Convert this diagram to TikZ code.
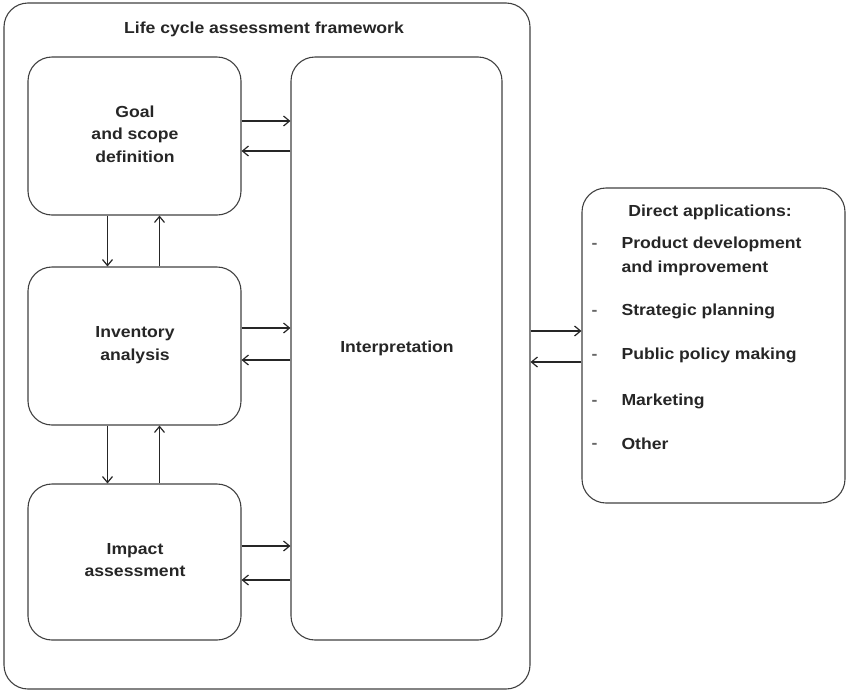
\documentclass[tikz,border=0pt]{standalone}
\usepackage{fontspec}
\setmainfont{Liberation Sans}[FakeStretch=1.1]
\usetikzlibrary{arrows.meta}
\begin{document}
\begin{tikzpicture}[x=1pt,y=-1pt,
  box/.style={draw=black!75,line width=1.1pt,rounded corners=24pt,inner sep=0pt},
  lbl/.style={font=\fontsize{16}{22.5}\selectfont\bfseries,text=black!85,align=center},
  item/.style={font=\fontsize{16}{24}\selectfont\bfseries,text=black!85,align=left,anchor=west},
  arr/.style={draw=black!85,line width=1.2pt,-{Straight Barb[length=6pt,width=10pt,line width=1.2pt]}}]
\useasboundingbox (0,0) rectangle (848,691);
\node[box,minimum width=526pt,minimum height=686pt] (outer) at (267,346) {};
\node[lbl] (title) at (264,29) {Life cycle assessment framework};
\node[box,minimum width=213pt,minimum height=158pt] (goal) at (134.5,136) {};
\node[box,minimum width=213pt,minimum height=158pt] (inv) at (134.5,346) {};
\node[box,minimum width=213pt,minimum height=156pt] (imp) at (134.5,562) {};
\node[box,minimum width=211pt,minimum height=583pt] (interp) at (396.5,348.5) {};
\node[box,minimum width=263pt,minimum height=315pt] (direct) at (713.5,345.5) {};
\node[lbl] at (135,134) {Goal\\and scope\\definition};
\node[lbl] at (135,345) {Inventory\\analysis};
\node[lbl] at (135,560) {Impact\\assessment};
\node[lbl] at (397,348) {Interpretation};
\node[lbl] (dtitle) at (710,212) {Direct applications:};
\foreach \y/\t in {256/{Product development\\and improvement},311/{Strategic planning},355/{Public policy making},401/{Marketing},444/{Other}}{
  \node[item] at (618,\y) {\t};
}
\foreach \y in {246,313,357,403,446}{
  \node[item,text=black!60] at (588,\y) {-};
}
% horizontal arrows
\draw[arr] ([yshift=15pt]goal.east) -- ([yshift=15pt]goal.east -| interp.west);
\draw[arr] ([yshift=-15pt]goal.east -| interp.west) -- ([yshift=-15pt]goal.east);
\draw[arr] ([yshift=18pt]inv.east) -- ([yshift=18pt]inv.east -| interp.west);
\draw[arr] ([yshift=-14pt]inv.east -| interp.west) -- ([yshift=-14pt]inv.east);
\draw[arr] ([yshift=16pt]imp.east) -- ([yshift=16pt]imp.east -| interp.west);
\draw[arr] ([yshift=-18pt]imp.east -| interp.west) -- ([yshift=-18pt]imp.east);
% vertical arrows
\draw[arr] ([xshift=-27pt]goal.south) -- ([xshift=-27pt]inv.north);
\draw[arr] ([xshift=25pt]inv.north) -- ([xshift=25pt]goal.south);
\draw[arr] ([xshift=-27pt]inv.south) -- ([xshift=-27pt]imp.north);
\draw[arr] ([xshift=25pt]imp.north) -- ([xshift=25pt]inv.south);
% to direct applications
\draw[arr] ([yshift=15pt]outer.east) -- ([yshift=15pt]outer.east -| direct.west);
\draw[arr] ([yshift=-16pt]outer.east -| direct.west) -- ([yshift=-16pt]outer.east);
\end{tikzpicture}
\end{document}
